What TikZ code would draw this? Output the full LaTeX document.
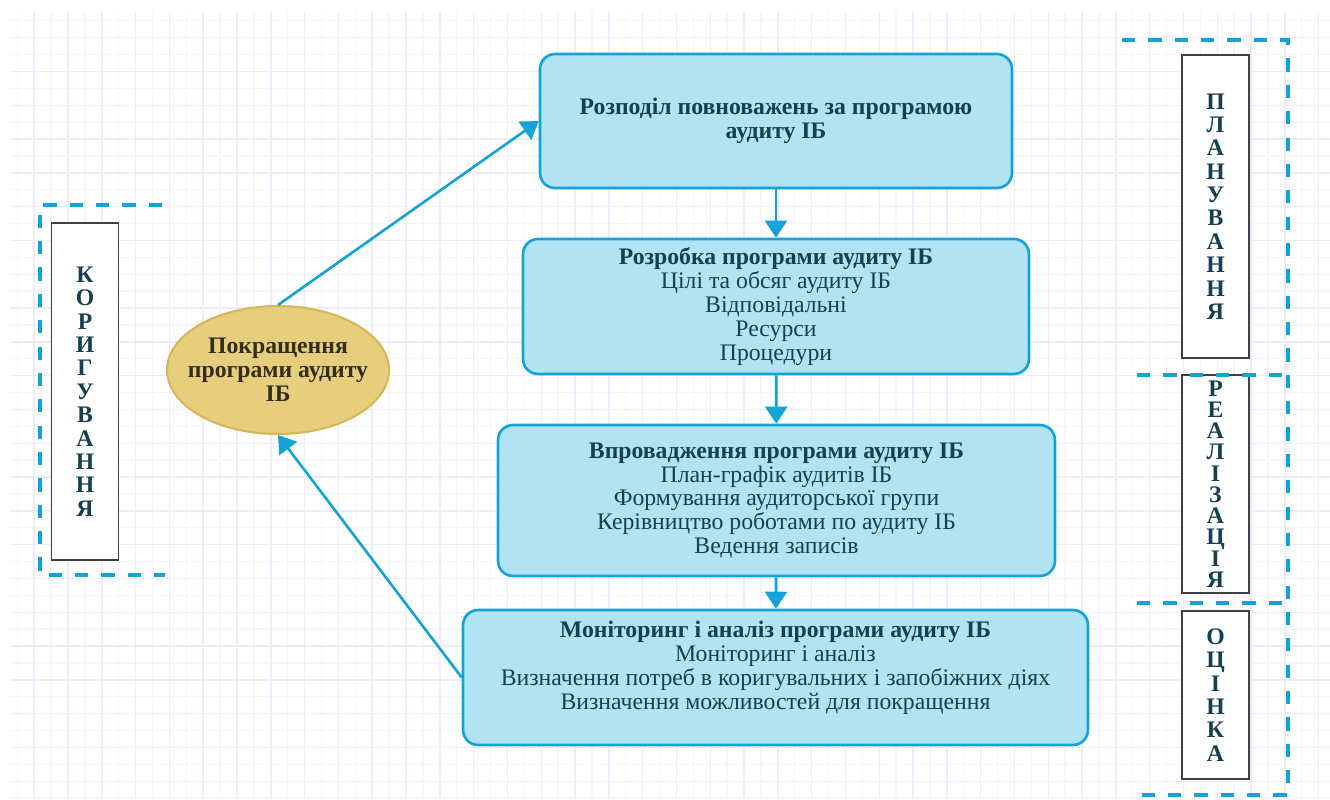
\documentclass[tikz,border=0pt]{standalone}
\usepackage{fontspec}
\setmainfont{Liberation Serif}
\usetikzlibrary{arrows.meta,shapes.geometric}
\definecolor{boxfill}{RGB}{177,227,243}
\definecolor{boxline}{RGB}{20,163,217}
\definecolor{boxtext}{RGB}{22,64,80}
\definecolor{ellfill}{RGB}{230,206,124}
\definecolor{elline}{RGB}{214,184,90}
\definecolor{elltext}{RGB}{51,45,30}
\definecolor{gridminor}{RGB}{245,245,254}
\definecolor{gridmajor}{RGB}{236,236,252}

\begin{document}
\begin{tikzpicture}[x=0.02cm, y=-0.02cm,
  stage/.style={draw=boxline, fill=boxfill, line width=1.5pt, rounded corners=0.3cm,
    align=center, text=boxtext, inner sep=0pt, font=\fontsize{13.5}{13.6}\selectfont},
  phase/.style={draw=black!75, fill=white, line width=1pt, minimum width=1.34cm,
    align=center, text=boxtext, inner sep=0pt, font=\bfseries\fontsize{13.5}{13.3}\selectfont},
  flow/.style={-{Triangle[length=0.34cm,width=0.44cm]}, draw=boxline, line width=1.5pt},
  bracket/.style={draw=boxline, line width=1.8pt, dash pattern=on 7.5pt off 7.5pt}]

  \useasboundingbox (0,0) rectangle (1330,799);

  % Background grid
  \begin{scope}
    \clip (10,12) rectangle (1330,799);
    \foreach \g in {0,...,78} {
      \draw[gridminor, line width=0.8pt] ({17.3+16.9*\g},12) -- ({17.3+16.9*\g},799);
    }
    \foreach \g in {0,...,46} {
      \draw[gridminor, line width=0.8pt] (10,{20.7+16.9*\g}) -- (1330,{20.7+16.9*\g});
    }
    \foreach \g in {0,...,39} {
      \draw[gridmajor, line width=0.8pt] ({34.2+33.8*\g},12) -- ({34.2+33.8*\g},799);
    }
    \foreach \g in {0,...,23} {
      \draw[gridmajor, line width=0.8pt] (10,{37.6+33.8*\g}) -- (1330,{37.6+33.8*\g});
    }
  \end{scope}

  % Stages of the audit programme
  \node[stage, minimum width=9.44cm, minimum height=2.68cm] (rozpodil) at (776,121)
    {\textbf{Розподіл повноважень за програмою}\\\textbf{аудиту ІБ}};
  \node[stage, minimum width=10.12cm, minimum height=2.7cm] (rozrobka) at (776,306.5)
    {\textbf{Розробка програми аудиту ІБ}\\Цілі та обсяг аудиту ІБ\\Відповідальні\\Ресурси\\Процедури};
  \node[stage, minimum width=11.14cm, minimum height=3.02cm] (vprovadzh) at (776.5,500.5)
    {\textbf{Впровадження програми аудиту ІБ}\\План-графік аудитів ІБ\\Формування аудиторської групи\\Керівництво роботами по аудиту ІБ\\Ведення записів};
  \node[stage, minimum width=12.5cm, minimum height=2.7cm] (monitor) at (775.5,677.5)
    {\textbf{Моніторинг і аналіз програми аудиту ІБ}\\Моніторинг і аналіз\\Визначення потреб в коригувальних і запобіжних діях\\Визначення можливостей для покращення\\\mbox{}};

  % Improvement
  \node[ellipse, draw=elline, fill=ellfill, line width=1.2pt, minimum width=4.44cm, minimum height=2.56cm,
    inner sep=0pt] (pokrash) at (278,370) {};
  \node[align=center, text=elltext, font=\bfseries\fontsize{13.5}{13.6}\selectfont] (pokrashtxt) at (pokrash)
    {Покращення\\програми аудиту\\ІБ};

  % Arrows
  \draw[flow] (rozpodil) -- (rozrobka);
  \draw[flow] (rozrobka) -- (vprovadzh);
  \draw[flow] (vprovadzh) -- (monitor);
  \draw[flow] (monitor.west) -- (pokrash.south);
  \draw[flow] (pokrash.north) -- (rozpodil.west);

  % Phase labels
  \node[phase, minimum height=6.74cm] (koryg) at (85,391.5)
    {К\\О\\Р\\И\\Г\\У\\В\\А\\Н\\Н\\Я};
  \node[phase, minimum height=6.06cm] (planuv) at (1215.5,206.5)
    {П\\Л\\А\\Н\\У\\В\\А\\Н\\Н\\Я};
  \node[phase, minimum height=4.36cm, font=\bfseries\fontsize{13.5}{12.1}\selectfont] (realiz) at (1215.5,484)
    {Р\\Е\\А\\Л\\І\\З\\А\\Ц\\І\\Я};
  \node[phase, minimum height=3.36cm] (otsinka) at (1215.5,695)
    {О\\Ц\\І\\Н\\К\\А};

  % Dashed brackets
  \draw[bracket] (162,205) -- (40,205) -- (40,575) -- (165,575);
  \draw[bracket] (1122,40) -- (1288,40) -- (1288,795) -- (1140,795);
  \draw[bracket] (1137,375) -- (1285,375);
  \draw[bracket] (1137,603) -- (1285,603);

\end{tikzpicture}
\end{document}
